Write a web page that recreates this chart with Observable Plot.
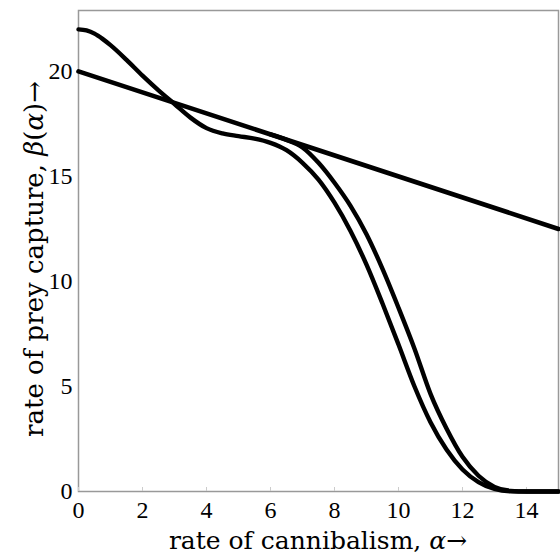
<!DOCTYPE html>
<html>
<head>
<meta charset="utf-8">
<script src="https://cdn.jsdelivr.net/npm/d3@7"></script>
<script src="https://cdn.jsdelivr.net/npm/@observablehq/plot@0.6"></script>
<style>
  html, body { margin: 0; padding: 0; background: #fff; }
  #chart { width: 560px; height: 556px; }
</style>
</head>
<body>
<div id="chart"></div>
<script>
// Rate of cannibalism α (x) and the prey-capture rate β(α) of three models.
const xTicks = [0, 2, 4, 6, 8, 10, 12, 14];
const yTicks = [0, 5, 10, 15, 20];

// Linear trade-off β = 20 − α/2
const linearAlpha = [0, 15];
const linearBeta = [20, 12.5];

// Curve that starts at 22, dips under the line, then collapses to zero
const alphaA = [0, 0.25, 0.5, 0.75, 1, 1.5, 2, 2.5, 3, 3.5, 4, 4.5, 5, 5.5, 6, 6.5, 7, 7.5, 8, 8.5, 9, 9.5, 10, 10.5, 11, 11.5, 12, 12.5, 13, 13.5, 14, 15];
const betaA  = [22, 21.95, 21.8, 21.55, 21.25, 20.55, 19.8, 19.1, 18.45, 17.8, 17.3, 17.05, 16.92, 16.8, 16.6, 16.25, 15.65, 14.85, 13.75, 12.4, 10.8, 8.95, 7.0, 5.0, 3.3, 2.0, 1.05, 0.45, 0.12, 0.01, 0, 0];

// Curve that leaves the line near α ≈ 6.5 and collapses a little later
const alphaB = [6, 6.5, 7, 7.5, 8, 8.5, 9, 9.5, 10, 10.5, 11, 11.5, 12, 12.5, 13, 13.5, 14, 15];
const betaB  = [17.0, 16.74, 16.38, 15.65, 14.7, 13.6, 12.25, 10.6, 8.75, 6.8, 4.65, 3.0, 1.65, 0.75, 0.22, 0.03, 0, 0];

const toRows = (xs, ys) => xs.map((a, i) => ({alpha: a, beta: ys[i]}));
const linear = toRows(linearAlpha, linearBeta);
const curveA = toRows(alphaA, betaA);
const curveB = toRows(alphaB, betaB);

const tickFont = "'Liberation Serif', serif";
const titleFont = "'DejaVu Serif', 'Liberation Serif', serif";

const plot = Plot.plot({
  width: 560,
  height: 556,
  marginLeft: 78,
  marginRight: 2,
  marginTop: 10,
  marginBottom: 65,
  style: {fontFamily: tickFont, fontSize: "24px", background: "#fff", color: "#000"},
  x: {domain: [0, 15], ticks: xTicks, label: null},
  y: {domain: [0, 22.9], ticks: yTicks, label: null},
  marks: [
    Plot.frame({stroke: "#999", strokeWidth: 1.5}),
    Plot.axisX({ticks: xTicks, tickSize: -4, stroke: "#ccc", tickPadding: 13, fontSize: 24, label: null}),
    Plot.axisY({ticks: yTicks, tickSize: 0, tickPadding: 6, fontSize: 24, label: null}),
    Plot.line(linear, {x: "alpha", y: "beta", stroke: "#000", strokeWidth: 4.6}),
    Plot.line(curveA, {x: "alpha", y: "beta", stroke: "#000", strokeWidth: 4.4, curve: "monotone-x"}),
    Plot.line(curveB, {x: "alpha", y: "beta", stroke: "#000", strokeWidth: 4.4, curve: "monotone-x"})
  ]
});

document.getElementById("chart").appendChild(plot);

// Axis titles with italic Greek symbols
const svg = d3.select(plot);
const xt = svg.append("text")
  .attr("x", 318).attr("y", 549)
  .attr("text-anchor", "middle")
  .attr("font-family", titleFont).attr("font-size", 25).attr("fill", "#000");
xt.append("tspan").text("rate of cannibalism, ");
xt.append("tspan").attr("font-style", "italic").text("α");
xt.append("tspan").text("→");

const yt = svg.append("text")
  .attr("transform", "translate(43,259) rotate(-90)")
  .attr("text-anchor", "middle")
  .attr("font-family", titleFont).attr("font-size", 26).attr("fill", "#000");
yt.append("tspan").text("rate of prey capture, ");
yt.append("tspan").attr("font-style", "italic").text("β");
yt.append("tspan").text("(");
yt.append("tspan").attr("font-style", "italic").text("α");
yt.append("tspan").text(")→");
</script>
</body>
</html>
